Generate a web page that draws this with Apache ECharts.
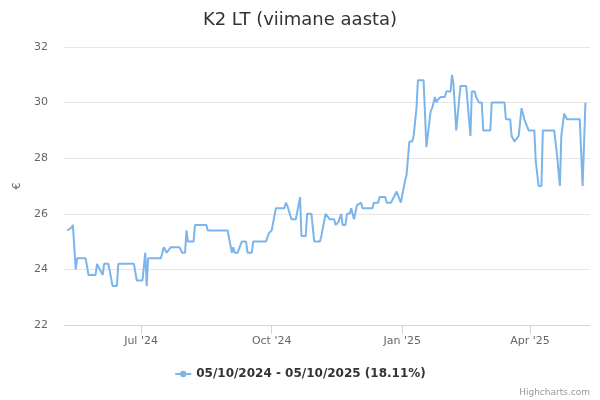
<!DOCTYPE html>
<html>
<head>
<meta charset="utf-8">
<script src="https://cdn.jsdelivr.net/npm/echarts@6/dist/echarts.min.js"></script>
<style>
  html, body { margin: 0; padding: 0; background: #fff; }
  #frame { width: 600px; height: 400px; }
</style>
</head>
<body>
<div id="frame"></div>
<script>
// price points (date, €)
const dates = [
  '2024-05-10','2024-05-13','2024-05-14','2024-05-16','2024-05-17','2024-05-23','2024-05-25','2024-05-30',
  '2024-05-31','2024-06-01','2024-06-04','2024-06-05','2024-06-08','2024-06-11','2024-06-14','2024-06-15',
  '2024-06-26','2024-06-28','2024-07-02','2024-07-04','2024-07-05','2024-07-06','2024-07-15','2024-07-17',
  '2024-07-19','2024-07-22','2024-07-28','2024-07-30','2024-08-01','2024-08-02','2024-08-03','2024-08-07',
  '2024-08-08','2024-08-16','2024-08-17','2024-08-31','2024-09-03','2024-09-04','2024-09-05','2024-09-07',
  '2024-09-10','2024-09-13','2024-09-14','2024-09-17','2024-09-18','2024-09-27','2024-09-29','2024-10-01',
  '2024-10-04','2024-10-10','2024-10-11','2024-10-12','2024-10-15','2024-10-18','2024-10-21','2024-10-22',
  '2024-10-25','2024-10-26','2024-10-29','2024-10-31','2024-11-04','2024-11-05','2024-11-08','2024-11-11',
  '2024-11-14','2024-11-15','2024-11-17','2024-11-19','2024-11-20','2024-11-22','2024-11-23','2024-11-25',
  '2024-11-26','2024-11-28','2024-11-30','2024-12-03','2024-12-04','2024-12-11','2024-12-12','2024-12-15',
  '2024-12-16','2024-12-20','2024-12-21','2024-12-24','2024-12-28','2024-12-31','2025-01-03','2025-01-04',
  '2025-01-05','2025-01-06','2025-01-08','2025-01-09','2025-01-11','2025-01-12','2025-01-13','2025-01-16',
  '2025-01-18','2025-01-21','2025-01-22','2025-01-24','2025-01-25','2025-01-26','2025-01-28','2025-01-31',
  '2025-02-01','2025-02-04','2025-02-05','2025-02-06','2025-02-08','2025-02-11','2025-02-15','2025-02-18',
  '2025-02-19','2025-02-21','2025-02-22','2025-02-24','2025-02-26','2025-02-27','2025-03-04','2025-03-05',
  '2025-03-14','2025-03-15','2025-03-18','2025-03-19','2025-03-21','2025-03-22','2025-03-24','2025-03-26',
  '2025-03-27','2025-03-28','2025-03-29','2025-03-31','2025-04-04','2025-04-05','2025-04-07','2025-04-09',
  '2025-04-10','2025-04-18','2025-04-20','2025-04-22','2025-04-23','2025-04-24','2025-04-25','2025-04-27',
  '2025-05-06','2025-05-08','2025-05-10'
];
const prices = [
  25.4,25.5,25.6,24.0,24.4,24.4,23.8,23.8,
  24.2,24.2,23.8,24.2,24.2,23.4,23.4,24.2,
  24.2,23.6,23.6,24.6,23.4,24.4,24.4,24.8,
  24.6,24.8,24.8,24.6,24.6,25.4,25.0,25.0,
  25.6,25.6,25.4,25.4,24.6,24.8,24.6,24.6,
  25.0,25.0,24.6,24.6,25.0,25.0,25.3,25.4,
  26.2,26.2,26.4,26.3,25.8,25.8,26.6,25.2,
  25.2,26.0,26.0,25.0,25.0,25.2,26.0,25.8,
  25.8,25.6,25.7,26.0,25.6,25.6,26.0,26.0,
  26.2,25.8,26.3,26.4,26.2,26.2,26.4,26.4,
  26.6,26.6,26.4,26.4,26.8,26.4,27.2,27.4,
  28.0,28.6,28.6,28.8,29.8,30.8,30.8,30.8,
  28.4,29.7,29.8,30.2,30.0,30.1,30.2,30.2,
  30.4,30.4,31.0,30.7,29.0,30.6,30.6,28.8,
  30.4,30.4,30.2,30.0,30.0,29.0,29.0,30.0,
  30.0,29.4,29.4,28.8,28.6,28.6,28.8,29.8,
  29.8,29.4,29.35,29.0,29.0,27.9,27.0,27.0,
  29.0,29.0,28.1,27.0,28.8,28.8,29.6,29.4,
  29.4,27.0,30.0
];
const tickDates = ['2024-07-01','2024-10-01','2025-01-01','2025-04-01'];
const tickLabels = ["Jul '24","Oct '24","Jan '25","Apr '25"];
const yTicks = [22, 24, 26, 28, 30, 32];

const font = 'DejaVu Sans';
const ts = d => new Date(d + 'T00:00:00Z').getTime();
const tickTs = tickDates.map(ts);
const seriesData = dates.map((d, i) => [ts(d), prices[i]]);

const chart = echarts.init(document.getElementById('frame'));
chart.setOption({
  animation: false,
  textStyle: { fontFamily: font },
  title: {
    text: 'K2 LT (viimane aasta)',
    left: 'center', top: 6,
    textStyle: { fontFamily: font, fontSize: 18, fontWeight: 'normal', color: '#333' }
  },
  legend: {
    bottom: 15, left: 'center',
    itemWidth: 16, itemHeight: 8,
    textStyle: { fontFamily: font, fontSize: 12, fontWeight: 'bold', color: '#333' },
    data: ['05/10/2024 - 05/10/2025 (18.11%)']
  },
  grid: { left: 64, right: 10, top: 47, bottom: 75 },
  xAxis: {
    type: 'value',
    min: ts('2024-05-07') + 18 * 3600e3,
    max: ts('2025-05-13') + 5 * 3600e3,
    axisLine: { lineStyle: { color: '#ccd6eb' } },
    axisTick: { show: true, length: 9, customValues: tickTs, lineStyle: { color: '#ccd6eb' } },
    axisLabel: {
      customValues: tickTs,
      color: '#666', fontSize: 11, fontFamily: font, margin: 11,
      formatter: v => tickLabels[tickTs.indexOf(v)] || ''
    },
    splitLine: { show: false }
  },
  yAxis: {
    type: 'value',
    min: yTicks[0], max: yTicks[yTicks.length - 1], interval: 2,
    name: '€', nameLocation: 'middle', nameGap: 37,
    nameTextStyle: { color: '#666', fontSize: 11, fontFamily: font },
    axisLine: { show: false },
    axisTick: { show: false },
    axisLabel: { color: '#666', fontSize: 11, fontFamily: font, margin: 16 },
    splitLine: { lineStyle: { color: '#e6e6e6' } }
  },
  series: [{
    name: '05/10/2024 - 05/10/2025 (18.11%)',
    type: 'line',
    data: seriesData,
    symbol: 'circle', symbolSize: 8, showSymbol: false,
    color: '#7cb5ec',
    lineStyle: { width: 2, color: '#7cb5ec' }
  }],
  graphic: [{
    type: 'text', right: 10, bottom: 3,
    style: { text: 'Highcharts.com', fill: '#999', fontSize: 9, fontFamily: font }
  }]
});
</script>
</body>
</html>
